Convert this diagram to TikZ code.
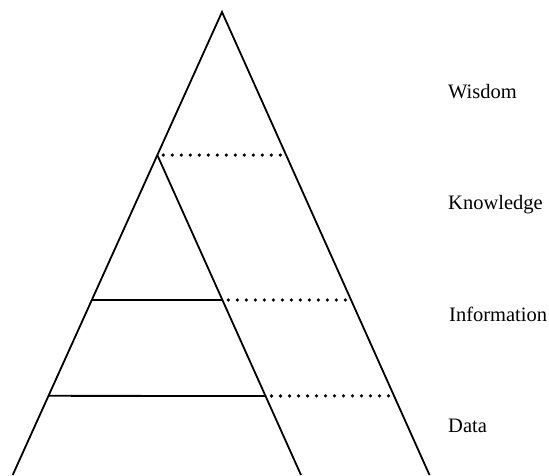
\documentclass[tikz,border=0pt]{standalone}
\usepackage{fontspec}
\setmainfont{Liberation Serif}
\usetikzlibrary{calc}
\begin{document}
\begin{tikzpicture}[x=1pt,y=-1pt,
edge/.style={%
line width=1.8pt
},
dots/.style={%
line width=3.6pt, line cap=round, dash pattern=on 0pt off 9pt,
shorten <=6pt, shorten >=3pt
},
level/.style={%
anchor=base west, inner sep=0pt, font=\fontsize{20.5}{24}\selectfont
}
]
\useasboundingbox (0,0) rectangle (549,475);
%% Outer triangle
\coordinate (top) at (222,12);
\coordinate (bl) at (12.7,475);
\coordinate (br) at (429.5,475);
\draw[edge](bl)--(top)--(br);
%% Inner line
\coordinate (itop) at ($(top)!0.309!(bl)$);
\coordinate (ibot) at (301,475);
\draw[edge](itop)--(ibot);
%% Layer borders
\coordinate (l1) at ($(top)!0.622!(bl)$);
\coordinate (m1) at ($(itop)!0.453!(ibot)$);
\coordinate (l2) at ($(top)!0.829!(bl)$);
\coordinate (m2) at ($(itop)!0.753!(ibot)$);
\draw[edge](l1)--(m1);
\draw[edge](l2)--(m2);
%% Dotted extensions
\coordinate (r0) at ($(top)!0.309!(br)$);
\coordinate (r1) at ($(top)!0.622!(br)$);
\coordinate (r2) at ($(top)!0.829!(br)$);
\draw[dots](itop)--(r0);
\draw[dots](m1)--(r1);
\draw[dots](m2)--(r2);
%% Labels
\node[level]at(448,98)(wis){Wisdom};
\node[level]at(448,209)(kno){Knowledge};
\node[level]at(449,321)(inf){Information};
\node[level]at(448,432)(dat){Data};
\end{tikzpicture}
\end{document}
